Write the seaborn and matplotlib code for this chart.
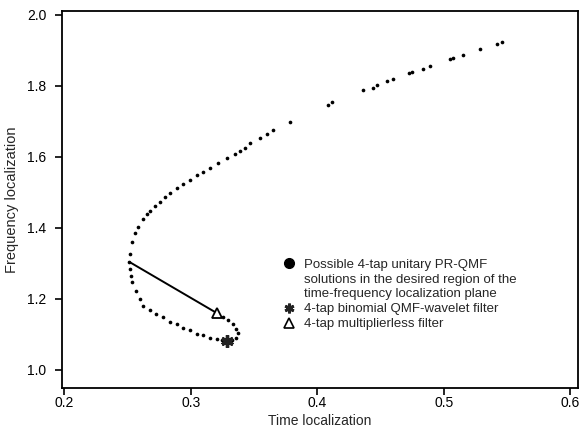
"""Time-frequency localization of 4-tap PR-QMF solutions."""
import matplotlib
matplotlib.use("Agg")
import matplotlib.pyplot as plt
from matplotlib.lines import Line2D
from matplotlib import font_manager
import pandas as pd
import seaborn as sns

# upper branch of the solution curve
upper_time = [0.2514, 0.2522, 0.2538, 0.2561, 0.2585, 0.2625, 0.2656, 0.2680,
              0.2719, 0.2759, 0.2798, 0.2838, 0.2893, 0.2941, 0.2996, 0.3051,
              0.3099, 0.3154, 0.3217, 0.3289, 0.3352, 0.3391, 0.3431, 0.3470,
              0.3549, 0.3605, 0.3652, 0.3787, 0.4087, 0.4119, 0.4364, 0.4443,
              0.4474, 0.4553, 0.4601, 0.4727, 0.4751, 0.4838, 0.4893, 0.5051,
              0.5075, 0.5154, 0.5289, 0.5423, 0.5462]
upper_freq = [1.304, 1.327, 1.361, 1.384, 1.403, 1.426, 1.438, 1.446,
              1.460, 1.474, 1.486, 1.497, 1.511, 1.523, 1.534, 1.548,
              1.557, 1.568, 1.582, 1.597, 1.608, 1.616, 1.625, 1.639,
              1.653, 1.665, 1.676, 1.699, 1.747, 1.753, 1.787, 1.795,
              1.801, 1.813, 1.818, 1.835, 1.838, 1.847, 1.855, 1.875,
              1.878, 1.886, 1.903, 1.918, 1.923]

# lower branch, looping round towards the multiplierless filter
lower_time = [0.2522, 0.2530, 0.2538, 0.2569, 0.2601, 0.2625, 0.2680, 0.2727,
              0.2783, 0.2838, 0.2893, 0.2941, 0.2996, 0.3051, 0.3099, 0.3154,
              0.3209, 0.3249, 0.3328, 0.3360, 0.3375, 0.3360, 0.3336, 0.3296,
              0.3257]
lower_freq = [1.284, 1.264, 1.247, 1.222, 1.199, 1.179, 1.168, 1.156,
              1.148, 1.136, 1.128, 1.119, 1.111, 1.102, 1.097, 1.091,
              1.088, 1.085, 1.085, 1.091, 1.105, 1.116, 1.128, 1.139,
              1.148]

# solid segment from the vertex to the multiplierless filter
link_time = [0.2514, 0.321]
link_freq = [1.304, 1.159]

binomial_time = [0.3289]
binomial_freq = [1.082]
multless_time = [0.321]
multless_freq = [1.159]

x_ticks = [0.2, 0.3, 0.4, 0.5, 0.6]
y_ticks = [1.0, 1.2, 1.4, 1.6, 1.8, 2.0]

legend_labels = [
    "Possible 4-tap unitary PR-QMF",
    "solutions in the desired region of the",
    "time-frequency localization plane",
    "4-tap binomial QMF-wavelet filter",
    "4-tap multiplierless filter",
]


def pick_font():
    names = {f.name for f in font_manager.fontManager.ttflist}
    for name in ["Liberation Sans Narrow", "Liberation Sans", "DejaVu Sans"]:
        if name in names:
            return name
    return "DejaVu Sans"


def main():
    sns.set_style("ticks")
    plt.rcParams["font.family"] = [pick_font(), "DejaVu Sans"]
    plt.rcParams["axes.edgecolor"] = "black"
    plt.rcParams["xtick.color"] = "black"
    plt.rcParams["ytick.color"] = "black"

    fig = plt.figure(figsize=(5.83, 4.33), dpi=100)
    ax = fig.add_axes([0.106, 0.104, 0.885, 0.871])

    dots = pd.DataFrame({
        "time": upper_time + lower_time,
        "freq": upper_freq + lower_freq,
    })
    sns.scatterplot(data=dots, x="time", y="freq", ax=ax, color="black",
                    marker="o", s=7, linewidth=0)
    sns.lineplot(x=link_time, y=link_freq, ax=ax, color="black",
                 linewidth=1.4, sort=False)
    ax.plot(binomial_time, binomial_freq, linestyle="none", marker=(6, 2, 0),
            markersize=9, markeredgewidth=2.4, color="#222222")
    ax.plot(multless_time, multless_freq, linestyle="none", marker="^",
            markersize=7, markerfacecolor="white", markeredgecolor="black",
            markeredgewidth=1.3)

    ax.set_xlim(0.198, 0.606)
    ax.set_ylim(0.949, 2.011)
    ax.set_xticks(x_ticks)
    ax.set_yticks(y_ticks)
    ax.set_xticklabels([f"{v:.1f}" for v in x_ticks])
    ax.set_yticklabels([f"{v:.1f}" for v in y_ticks])
    ax.tick_params(labelsize=10, length=5, width=1.2, direction="out")
    ax.tick_params(axis="x", pad=0.5)
    ax.tick_params(axis="y", pad=6)
    ax.set_xlabel("Time localization", fontsize=10, labelpad=3)
    ax.set_ylabel("Frequency localization", fontsize=10.5, labelpad=6)
    for side in ["top", "right", "left", "bottom"]:
        ax.spines[side].set_visible(True)
        ax.spines[side].set_linewidth(1.3)

    blank = Line2D([], [], linestyle="none", marker=None)
    handles = [
        Line2D([], [], linestyle="none", marker="o", markersize=7, color="black"),
        blank,
        blank,
        Line2D([], [], linestyle="none", marker=(6, 2, 0), markersize=7,
               markeredgewidth=2, color="#222222"),
        Line2D([], [], linestyle="none", marker="^", markersize=7,
               markerfacecolor="white", markeredgecolor="black",
               markeredgewidth=1.2),
    ]
    ax.legend(handles, legend_labels, loc="upper left",
              bbox_to_anchor=(0.41, 0.368), frameon=False, fontsize=9.5,
              handlelength=1.0, handletextpad=0.6, labelspacing=0.2,
              borderpad=0.2)

    fig.savefig("out.png", dpi=100)
    plt.close(fig)


if __name__ == "__main__":
    main()
